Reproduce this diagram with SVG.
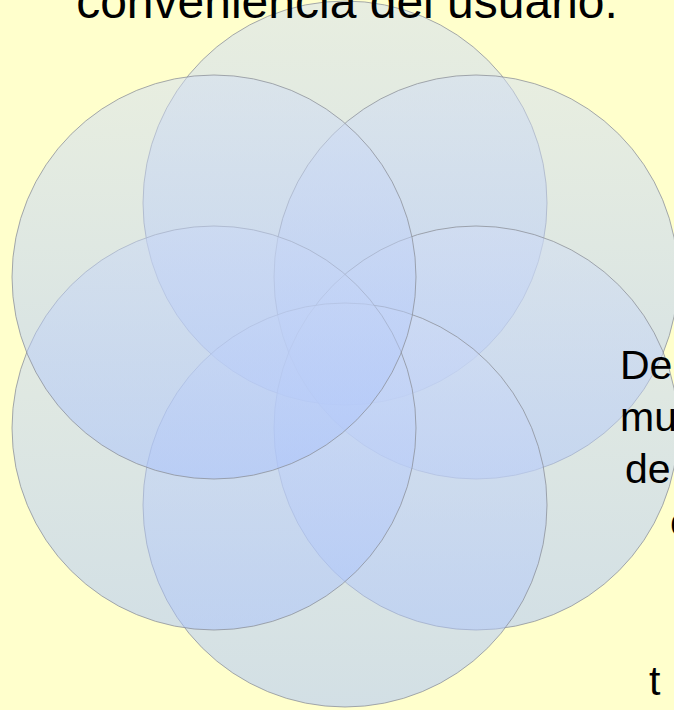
<svg xmlns="http://www.w3.org/2000/svg" width="674" height="710" viewBox="0 0 674 710">
<defs>
<linearGradient id="g" x1="0" y1="0" x2="0" y2="1">
<stop offset="0" stop-color="#D1DDF4" stop-opacity="0.5"/>
<stop offset="1" stop-color="#A9C2FC" stop-opacity="0.52"/>
</linearGradient>
</defs>
<style>
.c{fill:url(#g);stroke:#8A8E96;stroke-width:1;stroke-opacity:0.75}
.t{font-family:"Liberation Sans",Arial,sans-serif;fill:#000}
</style>
<rect width="674" height="710" fill="#FFFFCC"/>
<g id="circle-top"><circle class="c" cx="345" cy="203" r="202"/></g>
<g id="circle-upper-right"><circle class="c" cx="476" cy="277" r="202"/></g>
<g id="circle-lower-right"><circle class="c" cx="476" cy="428" r="202"/></g>
<g id="circle-bottom"><circle class="c" cx="345" cy="505" r="202"/></g>
<g id="circle-lower-left"><circle class="c" cx="214" cy="428" r="202"/></g>
<g id="circle-upper-left"><circle class="c" cx="214" cy="277" r="202"/></g>
<g id="connectors"></g>
<text class="t" x="347" y="18" font-size="48" text-anchor="middle">conveniencia del usuario.</text>
<g class="t" font-size="41">
<text x="620" y="379">De</text>
<text x="620" y="431">mu</text>
<text x="625" y="483">de</text>
<text x="670" y="536">c</text>
<text x="649" y="695">t</text>
</g>
</svg>
